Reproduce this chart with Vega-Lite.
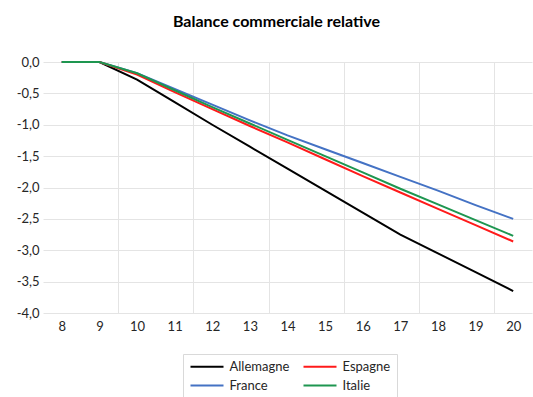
{
  "$schema": "https://vega.github.io/schema/vega-lite/v6.json",
  "width": 489,
  "height": 251,
  "autosize": {"type": "none"},
  "padding": {"left": 43, "top": 62, "right": 1, "bottom": 84},
  "background": "white",
  "title": {
    "text": "Balance commerciale relative",
    "font": "Lato",
    "fontSize": 16,
    "fontWeight": "bold",
    "color": "#000000",
    "anchor": "middle",
    "offset": 26,
    "dx": -11
  },
  "data": {
    "values": [
      {"annee": 8, "pays": "Allemagne", "valeur": 0},
      {"annee": 9, "pays": "Allemagne", "valeur": 0},
      {"annee": 10, "pays": "Allemagne", "valeur": -0.28},
      {"annee": 11, "pays": "Allemagne", "valeur": -0.64},
      {"annee": 12, "pays": "Allemagne", "valeur": -1.0},
      {"annee": 13, "pays": "Allemagne", "valeur": -1.35},
      {"annee": 14, "pays": "Allemagne", "valeur": -1.7},
      {"annee": 15, "pays": "Allemagne", "valeur": -2.05},
      {"annee": 16, "pays": "Allemagne", "valeur": -2.4},
      {"annee": 17, "pays": "Allemagne", "valeur": -2.75},
      {"annee": 18, "pays": "Allemagne", "valeur": -3.05},
      {"annee": 19, "pays": "Allemagne", "valeur": -3.35},
      {"annee": 20, "pays": "Allemagne", "valeur": -3.65},
      {"annee": 8, "pays": "France", "valeur": 0},
      {"annee": 9, "pays": "France", "valeur": 0},
      {"annee": 10, "pays": "France", "valeur": -0.18},
      {"annee": 11, "pays": "France", "valeur": -0.43},
      {"annee": 12, "pays": "France", "valeur": -0.68},
      {"annee": 13, "pays": "France", "valeur": -0.93},
      {"annee": 14, "pays": "France", "valeur": -1.17},
      {"annee": 15, "pays": "France", "valeur": -1.39},
      {"annee": 16, "pays": "France", "valeur": -1.61},
      {"annee": 17, "pays": "France", "valeur": -1.83},
      {"annee": 18, "pays": "France", "valeur": -2.05},
      {"annee": 19, "pays": "France", "valeur": -2.28},
      {"annee": 20, "pays": "France", "valeur": -2.5},
      {"annee": 8, "pays": "Espagne", "valeur": 0},
      {"annee": 9, "pays": "Espagne", "valeur": 0},
      {"annee": 10, "pays": "Espagne", "valeur": -0.2},
      {"annee": 11, "pays": "Espagne", "valeur": -0.48},
      {"annee": 12, "pays": "Espagne", "valeur": -0.75},
      {"annee": 13, "pays": "Espagne", "valeur": -1.02},
      {"annee": 14, "pays": "Espagne", "valeur": -1.28},
      {"annee": 15, "pays": "Espagne", "valeur": -1.55},
      {"annee": 16, "pays": "Espagne", "valeur": -1.82},
      {"annee": 17, "pays": "Espagne", "valeur": -2.08},
      {"annee": 18, "pays": "Espagne", "valeur": -2.34},
      {"annee": 19, "pays": "Espagne", "valeur": -2.6},
      {"annee": 20, "pays": "Espagne", "valeur": -2.86},
      {"annee": 8, "pays": "Italie", "valeur": 0},
      {"annee": 9, "pays": "Italie", "valeur": 0},
      {"annee": 10, "pays": "Italie", "valeur": -0.18},
      {"annee": 11, "pays": "Italie", "valeur": -0.45},
      {"annee": 12, "pays": "Italie", "valeur": -0.72},
      {"annee": 13, "pays": "Italie", "valeur": -0.98},
      {"annee": 14, "pays": "Italie", "valeur": -1.24},
      {"annee": 15, "pays": "Italie", "valeur": -1.5},
      {"annee": 16, "pays": "Italie", "valeur": -1.76},
      {"annee": 17, "pays": "Italie", "valeur": -2.02},
      {"annee": 18, "pays": "Italie", "valeur": -2.27},
      {"annee": 19, "pays": "Italie", "valeur": -2.52},
      {"annee": 20, "pays": "Italie", "valeur": -2.77}
    ]
  },
  "mark": {"type": "line", "strokeWidth": 2},
  "encoding": {
    "x": {
      "field": "annee",
      "type": "quantitative",
      "scale": {"domain": [7.5, 20.5], "nice": false, "zero": false},
      "axis": {
        "title": null,
        "values": [8, 9, 9.5, 10, 11, 11.5, 12, 13, 13.5, 14, 15, 15.5, 16, 17, 17.5, 18, 19, 19.5, 20],
        "labelExpr": "datum.value % 1 == 0 ? format(datum.value, 'd') : ''",
        "labelOverlap": false,
        "labelFlush": false,
        "domain": false,
        "ticks": false,
        "grid": true,
        "gridColor": "#e4e4e4",
        "gridWidth": 1,
        "gridOpacity": {"condition": {"test": "datum.value % 1 != 0", "value": 1}, "value": 0},
        "labelFont": "Lato",
        "labelFontSize": 13,
        "labelColor": "#262626",
        "labelPadding": 7
      }
    },
    "y": {
      "field": "valeur",
      "type": "quantitative",
      "scale": {"domain": [-4, 0], "nice": false, "zero": false},
      "axis": {
        "title": null,
        "values": [0, -0.5, -1, -1.5, -2, -2.5, -3, -3.5, -4],
        "labelExpr": "(datum.value < 0 ? '-' : '') + replace(format(abs(datum.value), '.1f'), '.', ',')",
        "domain": false,
        "ticks": false,
        "grid": true,
        "gridColor": "#e4e4e4",
        "gridWidth": 1,
        "labelFont": "Lato",
        "labelFontSize": 13,
        "labelColor": "#262626",
        "labelPadding": 4
      }
    },
    "color": {
      "field": "pays",
      "type": "nominal",
      "scale": {
        "domain": ["Allemagne", "Espagne", "France", "Italie"],
        "range": ["#000000", "#ff1a1a", "#4472c4", "#1e9650"]
      },
      "legend": {
        "title": null,
        "orient": "none",
        "legendX": 140,
        "legendY": 292,
        "direction": "horizontal",
        "columns": 2,
        "symbolType": "M-3.3,0H3.3",
        "symbolSize": 100,
        "symbolOffset": 11.5,
        "symbolStrokeWidth": 2,
        "labelOffset": 16,
        "labelFont": "Lato",
        "labelFontSize": 13,
        "labelColor": "#262626",
        "rowPadding": 5,
        "columnPadding": 9,
        "padding": 6,
        "strokeColor": "#d9d9d9",
        "fillColor": "white"
      }
    }
  },
  "config": {"view": {"stroke": null}}
}
